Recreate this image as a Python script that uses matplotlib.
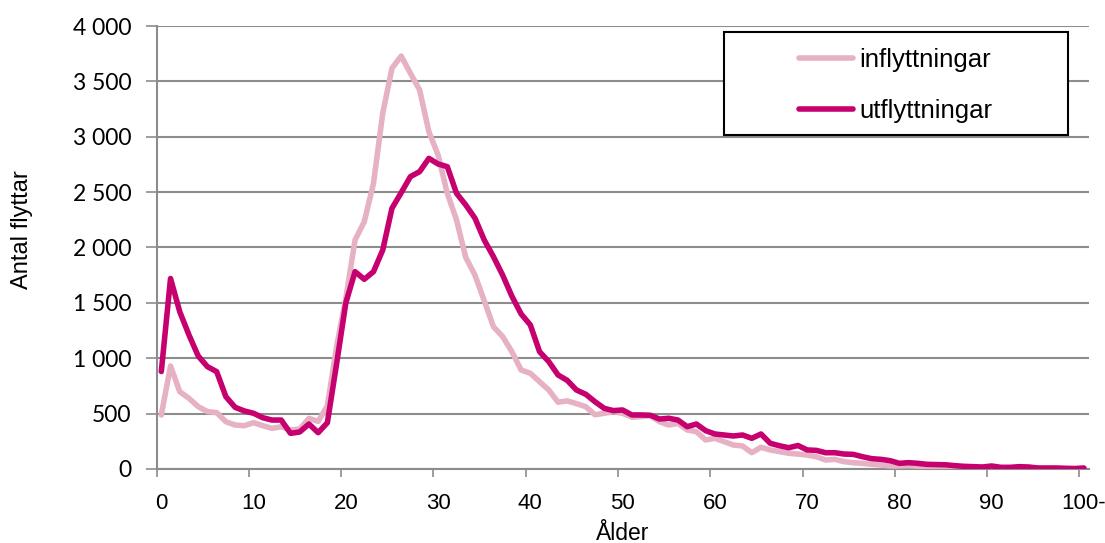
import matplotlib
matplotlib.use("Agg")
import matplotlib.pyplot as plt
from matplotlib.ticker import FuncFormatter, FixedLocator
from matplotlib.patches import Rectangle

ages = list(range(0, 101))
age_labels = ["0", "10", "20", "30", "40", "50", "60", "70", "80", "90", "100-"]

inflyttningar = [488, 930, 698, 638, 563, 518, 509, 427, 397, 391,
                 418, 391, 367, 382, 352, 360, 457, 430, 570, 1105,
                 1540, 2068, 2233, 2580, 3212, 3618, 3729, 3573, 3422, 3046,
                 2835, 2489, 2248, 1910, 1750, 1520, 1285, 1195, 1059, 894,
                 864, 788, 713, 603, 615, 590, 563, 490, 503, 518,
                 503, 467, 473, 482, 427, 397, 412, 352, 337, 262,
                 277, 247, 217, 208, 147, 196, 172, 157, 142, 135,
                 126, 111, 81, 87, 66, 57, 51, 42, 36, 27,
                 27, 30, 25, 22, 20, 18, 15, 12, 10, 10,
                 9, 8, 7, 6, 5, 5, 4, 3, 3, 2, 2]

utflyttningar = [880, 1720, 1420, 1210, 1020, 924, 879, 653, 557, 524,
                 503, 463, 442, 442, 322, 334, 406, 328, 418, 950,
                 1500, 1782, 1713, 1782, 1977, 2354, 2495, 2640, 2685, 2805,
                 2754, 2730, 2489, 2384, 2264, 2068, 1917, 1750, 1560, 1400,
                 1300, 1059, 969, 849, 800, 713, 675, 608, 548, 527,
                 533, 488, 488, 485, 451, 458, 442, 382, 406, 346,
                 316, 307, 298, 307, 277, 316, 232, 210, 192, 212,
                 172, 168, 147, 147, 135, 132, 111, 93, 87, 75,
                 51, 57, 51, 42, 40, 38, 30, 24, 21, 18,
                 27, 15, 15, 21, 18, 9, 9, 9, 6, 4, 9]

c_in = "#E6B1C4"
c_ut = "#C6006F"
grid_c = "#8C8C8C"

fig = plt.figure(figsize=(11.05, 5.43), dpi=100)
ax = fig.add_axes([0.1418, 0.1363, 0.9851 - 0.1418, 0.9521 - 0.1363])

ax.plot(ages, inflyttningar, color=c_in, lw=4.0, label="inflyttningar",
        solid_joinstyle="round", solid_capstyle="round", zorder=3)
ax.plot(ages, utflyttningar, color=c_ut, lw=4.0, label="utflyttningar",
        solid_joinstyle="round", solid_capstyle="round", zorder=4)

ax.set_xlim(-0.5, 100.5)
ax.set_ylim(0, 4000)

# y axis
ax.set_yticks(range(0, 4001, 500))
ax.yaxis.set_major_formatter(FuncFormatter(lambda v, p: f"{int(v):,}".replace(",", " ")))
ax.yaxis.grid(True, color=grid_c, lw=1.5)
ax.set_axisbelow(True)
for lab in ax.get_yticklabels():
    lab.set_fontfamily("Lato")
    lab.set_fontsize(16.5)
ax.tick_params(axis="y", direction="out", length=8, width=1.2, color=grid_c,
               pad=10, labelcolor="black")

# x axis: labels at category centres, tick marks at category boundaries
ax.xaxis.set_major_locator(FixedLocator(list(range(0, 101, 10))))
ax.set_xticklabels(age_labels, fontfamily="Liberation Sans", fontsize=16)
ax.xaxis.set_minor_locator(FixedLocator([v - 0.5 for v in range(0, 101, 10)]))
ax.tick_params(axis="x", which="major", length=0, pad=17)
ax.tick_params(axis="x", which="minor", direction="out", length=6, width=1.2, color=grid_c)

for s in ["top", "right"]:
    ax.spines[s].set_visible(False)
for s in ["left", "bottom"]:
    ax.spines[s].set_color(grid_c)
    ax.spines[s].set_linewidth(1.5)

ax.set_xlabel("Ålder", fontfamily="Liberation Sans", fontsize=16.5, labelpad=6)
fig.text(22 / 1105, 1 - 230 / 543, "Antal flyttar", rotation=90, ha="center", va="center",
         fontfamily="Liberation Sans", fontsize=17)

# legend box
x0, x1 = 724 / 1105, 1068 / 1105
y0, y1 = 1 - 135 / 543, 1 - 31.7 / 543
rect = Rectangle((x0, y0), x1 - x0, y1 - y0, transform=fig.transFigure,
                 facecolor="white", edgecolor="black", lw=1.5, zorder=10)
fig.patches.append(rect)
leg = fig.legend(loc="center", bbox_to_anchor=((x0 + x1) / 2, (y0 + y1) / 2 - 2 / 543),
                 frameon=False, prop={"family": "Liberation Sans", "size": 18.5},
                 handlelength=2.1, handletextpad=0.25, labelspacing=1.05)
leg.set_zorder(11)

fig.savefig("out.png", dpi=100)
